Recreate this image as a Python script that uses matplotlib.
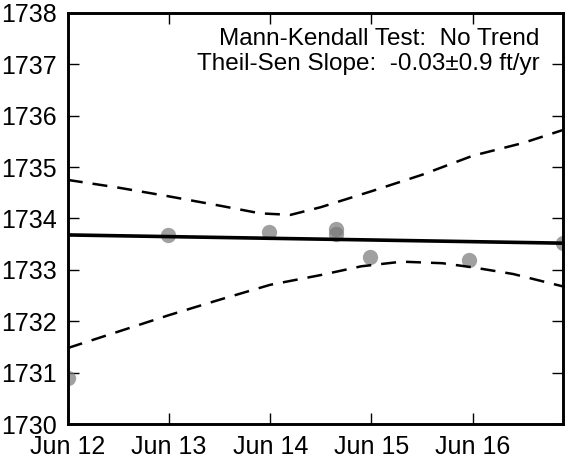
import datetime as dt
import matplotlib
matplotlib.use("Agg")
import matplotlib.pyplot as plt
import matplotlib.dates as mdates

plt.rcParams['font.family'] = ['Liberation Sans', 'DejaVu Sans']

# ---- data ----
START = dt.datetime(2015, 6, 12)
def day(d):
    return START + dt.timedelta(days=d)

obs_days = [0.0, 0.99, 1.99, 2.65, 2.65, 2.99, 3.96, 4.89]
obs_level = [1730.90, 1733.68, 1733.74, 1733.80, 1733.70, 1733.25, 1733.19, 1733.52]

trend_days = [0.0, 4.89]
trend_level = [1733.68, 1733.52]

upper_days = [0.0, 0.5, 1.0, 1.5, 1.9, 2.2, 2.5, 3.0, 3.5, 4.0, 4.5, 4.89]
upper_level = [1734.75, 1734.60, 1734.43, 1734.25, 1734.10, 1734.07, 1734.22, 1734.53, 1734.85, 1735.22, 1735.47, 1735.72]

lower_days = [0.0, 0.5, 1.0, 1.5, 2.0, 2.5, 2.9, 3.3, 3.7, 4.0, 4.4, 4.89]
lower_level = [1731.48, 1731.80, 1732.12, 1732.42, 1732.71, 1732.90, 1733.07, 1733.16, 1733.13, 1733.05, 1732.92, 1732.68]

# ---- plot ----
fig = plt.figure(figsize=(5.65, 4.59), dpi=100)
ax = fig.add_axes([0.120, 0.076, 0.876, 0.896])

ax.plot([day(d) for d in obs_days], obs_level, 'o', color='#787878',
        alpha=0.7, markersize=11, markeredgewidth=0)
ax.plot([day(d) for d in trend_days], trend_level, '-', color='black', lw=2.6)
ax.plot([day(d) for d in upper_days], upper_level, '--', color='black',
        lw=1.8, dashes=(6, 4))
ax.plot([day(d) for d in lower_days], lower_level, '--', color='black',
        lw=1.8, dashes=(6, 4))

ax.set_xlim(day(0), day(4.89))
ax.set_ylim(1730, 1738)
ax.xaxis.set_major_locator(mdates.DayLocator())
ax.xaxis.set_major_formatter(mdates.DateFormatter('%b %d'))

for s in ax.spines.values():
    s.set_linewidth(2.1)
ax.tick_params(direction='in', top=True, right=True, length=8, width=1,
               labelsize=18)
ax.tick_params(axis='y', pad=8)
ax.tick_params(axis='x', pad=8)

ax.text(0.953, 0.962, 'Mann-Kendall Test:  No Trend\nTheil-Sen Slope:  -0.03\u00b10.9 ft/yr',
        transform=ax.transAxes, ha='right', va='top', fontsize=17.5,
        linespacing=1.15)

fig.savefig('out.png', dpi=100)
